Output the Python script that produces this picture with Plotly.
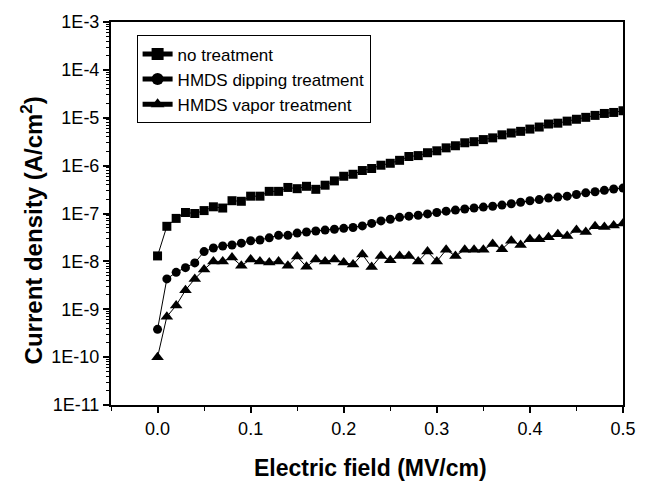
import plotly.graph_objects as go

field = [round(i * 0.01, 2) for i in range(51)]

no_treatment = [1.3e-8, 5.4e-8, 7.9e-8, 1.05e-7, 1.0e-7, 1.15e-7, 1.38e-7, 1.3e-7, 1.85e-7, 1.8e-7,
                2.3e-7, 2.3e-7, 2.9e-7, 2.9e-7, 3.5e-7, 3.3e-7, 3.7e-7, 3.2e-7, 3.9e-7, 4.8e-7,
                6.0e-7, 6.6e-7, 7.9e-7, 8.7e-7, 1.02e-6, 1.12e-6, 1.29e-6, 1.55e-6, 1.62e-6, 1.86e-6,
                2.04e-6, 2.35e-6, 2.6e-6, 3.0e-6, 3.16e-6, 3.5e-6, 3.8e-6, 4.4e-6, 4.8e-6, 5.2e-6,
                5.8e-6, 6.4e-6, 7.4e-6, 7.7e-6, 8.5e-6, 9.3e-6, 1.02e-5, 1.12e-5, 1.23e-5, 1.29e-5,
                1.4e-5]

hmds_dipping = [3.8e-10, 4.3e-9, 5.9e-9, 7.4e-9, 9.3e-9, 1.6e-8, 1.9e-8, 2.1e-8, 2.2e-8, 2.4e-8,
                2.7e-8, 2.8e-8, 3.1e-8, 3.5e-8, 3.5e-8, 3.9e-8, 4.1e-8, 4.3e-8, 4.5e-8, 4.7e-8,
                4.9e-8, 5.1e-8, 5.5e-8, 6.2e-8, 7.0e-8, 7.6e-8, 8.3e-8, 8.8e-8, 9.2e-8, 9.8e-8,
                1.05e-7, 1.12e-7, 1.18e-7, 1.24e-7, 1.3e-7, 1.36e-7, 1.42e-7, 1.5e-7, 1.6e-7, 1.72e-7,
                1.85e-7, 1.95e-7, 2.1e-7, 2.2e-7, 2.3e-7, 2.5e-7, 2.7e-7, 2.85e-7, 3.05e-7, 3.25e-7,
                3.4e-7]

hmds_vapor = [1e-10, 7e-10, 1.2e-9, 2.5e-9, 4.3e-9, 6.8e-9, 1.0e-8, 1.0e-8, 1.2e-8, 8.1e-9,
              1.1e-8, 1.0e-8, 9.5e-9, 1.0e-8, 8.1e-9, 1.26e-8, 7.7e-9, 1.1e-8, 1.0e-8, 1.1e-8,
              9.5e-9, 8.6e-9, 1.4e-8, 7.6e-9, 1.3e-8, 1.05e-8, 1.3e-8, 1.3e-8, 1.0e-8, 1.6e-8,
              1.0e-8, 1.74e-8, 1.3e-8, 1.74e-8, 1.74e-8, 1.74e-8, 2.3e-8, 1.8e-8, 2.7e-8, 2.2e-8,
              2.9e-8, 2.9e-8, 3.2e-8, 3.7e-8, 3.4e-8, 4.5e-8, 4.1e-8, 5.4e-8, 5.2e-8, 5.6e-8,
              6.2e-8]

series_names = ["no treatment", "HMDS dipping treatment", "HMDS vapor treatment"]
series_symbols = ["square", "circle", "triangle-up"]

y_exponents = list(range(-11, -2))
y_tickvals = [10.0 ** e for e in y_exponents]
y_ticktext = ["1E%d" % e for e in y_exponents]
y_minor = [k * 10.0 ** e for e in range(-11, -3) for k in range(2, 10)]

x_tickvals = [0.0, 0.1, 0.2, 0.3, 0.4, 0.5]

FONT = "Liberation Sans, Arial, sans-serif"

fig = go.Figure()
for name, ys, sym in zip(series_names, [no_treatment, hmds_dipping, hmds_vapor], series_symbols):
    fig.add_trace(go.Scatter(
        x=field, y=ys, name=name, mode="lines+markers",
        line=dict(color="black", width=1),
        marker=dict(symbol=sym, size=9 if sym != "triangle-up" else 11, color="black",
                    line=dict(color="black", width=0)),
    ))

fig.update_layout(
    width=648, height=490,
    margin=dict(l=111, r=15, t=15, b=85),
    paper_bgcolor="white", plot_bgcolor="white",
    font=dict(family=FONT, color="black", size=17),
    showlegend=True,
    legend=dict(
        x=0.05, y=0.965, xanchor="left", yanchor="top",
        bordercolor="black", borderwidth=1, bgcolor="white",
        font=dict(family=FONT, size=17, color="black"),
        tracegroupgap=0, itemsizing="constant",
    ),
    xaxis=dict(
        range=[-0.05, 0.5], showgrid=False, zeroline=False,
        showline=True, linecolor="black", linewidth=2, mirror=True,
        ticks="outside", ticklen=6, tickwidth=1.5, tickcolor="black",
        tickvals=x_tickvals, ticktext=["%.1f" % v for v in x_tickvals],
        tickfont=dict(family=FONT, size=18),
        minor=dict(dtick=0.05, tick0=0, ticks="outside", ticklen=4, tickcolor="black", tickwidth=1, showgrid=False),
    ),
    yaxis=dict(
        type="log", range=[-11, -3], showgrid=False, zeroline=False,
        showline=True, linecolor="black", linewidth=2, mirror=True,
        ticks="outside", ticklen=6, tickwidth=1.5, tickcolor="black",
        tickvals=y_tickvals, ticktext=y_ticktext,
        tickfont=dict(family=FONT, size=18),
        minor=dict(tickmode="array", tickvals=y_minor, ticks="outside", ticklen=3, tickcolor="black", tickwidth=1, showgrid=False),
    ),
    annotations=[
        dict(text="<b>Electric field (MV/cm)</b>", xref="paper", yref="paper",
             x=0.506, y=-0.165, xanchor="center", yanchor="middle", showarrow=False,
             font=dict(family=FONT, size=23, color="black")),
        dict(text="<b>Current density (A/cm<sup>2</sup>)</b>", xref="paper", yref="paper",
             x=-0.155, y=0.455, xanchor="center", yanchor="middle", showarrow=False,
             textangle=-90, font=dict(family=FONT, size=24, color="black")),
    ],
)

fig.write_html("out.html")
